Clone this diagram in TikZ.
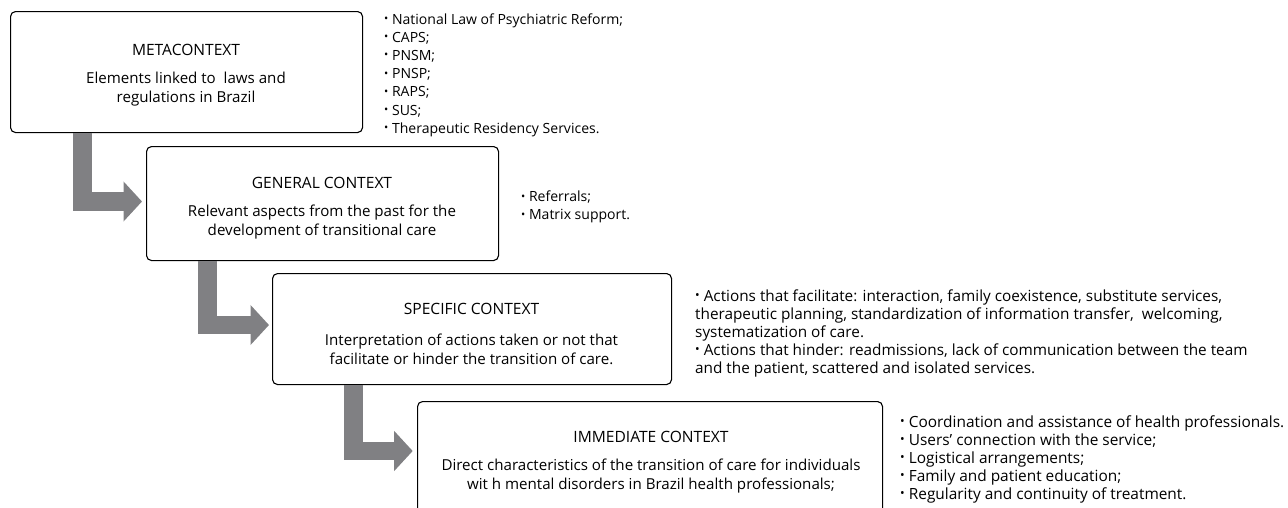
\documentclass[tikz,border=0pt]{standalone}
\usepackage{fontspec}
\setmainfont{Open Sans}
\usetikzlibrary{arrows.meta,calc}
\definecolor{arrowgray}{RGB}{128,128,131}
\newcommand{\bul}{\raisebox{0.2ex}{\scalebox{0.8}{•}}\ }
\newcommand{\tightls}{\lineskiplimit=-50pt\relax}
\newlength\calw
\newcommand\calib[3]{\settowidth{\calw}{\fontsize{10}{10}\selectfont #3}\pgfmathsetmacro#1{10*#2/\the\calw}}
\begin{document}
\calib\szT{108}{METACONTEXT}%
\calib\szB{419}{Direct characteristics of the transition of care for individuals}%
\calib\szA{239}{\bul National Law of Psychiatric Reform;}%
\calib\szC{340}{and the patient, scattered and isolated services.}%
\calib\szD{384}{\bul Coordination and assistance of health professionals.}%
\begin{tikzpicture}[x=1pt,y=-1pt,
  box/.style={draw=black, line width=1.1pt, rounded corners=5pt, anchor=north west, inner sep=0pt},
  ttl/.style={font=\fontsize{\szT}{15}\selectfont, inner sep=0pt},
  body/.style={font=\fontsize{\szB}{19}\selectfont, align=center, inner sep=0pt},
  sidelist/.style={align=left, anchor=west, inner sep=0pt},
  bigarrow/.style={draw=arrowgray, line width=18.7pt, line join=miter, -{Triangle[length=18.5pt,width=39pt]}, arrowgray}]
\useasboundingbox (0,0) rectangle (1288,507);
% boxes
\node[box, minimum width=352, minimum height=121] (b1) at (10,11) {};
\node[box, minimum width=352, minimum height=114] (b2) at (146,146) {};
\node[box, minimum width=399, minimum height=111] (b3) at (272,273) {};
\begin{scope}
\clip (0,0) rectangle (1288,507);
\node[box, minimum width=465, minimum height=140] (b4) at (417,401) {};
\end{scope}
% box texts
\node[ttl] (t1) at (186,50) {METACONTEXT};
\node[body] (d1) at (186,89.5) {Elements linked to\ \ laws and\\regulations in Brazil};
\node[ttl] (t2) at (322,183) {GENERAL CONTEXT};
\node[body] (d2) at (322,222.5) {Relevant aspects from the past for the\\development of transitional care};
\node[ttl] (t3) at (471.5,309) {SPECIFIC CONTEXT};
\node[body] (d3) at (471.5,349.5) {Interpretation of actions taken or not that\\facilitate or hinder the transition of care.};
\node[ttl] (t4) at (651,437) {IMMEDIATE CONTEXT};
\node[body] (d4) at (651,476.5) {Direct characteristics of the transition of care for individuals\\wit h mental disorders in Brazil health professionals;};
% side lists
\node[sidelist, font=\fontsize{\szA}{18.2}\selectfont\tightls] (l1) at (384,75) {\bul National Law of Psychiatric Reform;\\\bul CAPS;\\\bul PNSM;\\\bul PNSP;\\\bul RAPS;\\\bul SUS;\\\bul Therapeutic Residency Services.};
\node[sidelist, font=\fontsize{\szA}{18}\selectfont\tightls] (l2) at (521,207) {\bul Referrals;\\\bul Matrix support.};
\node[sidelist, font=\fontsize{\szC}{18}\selectfont\tightls] (l3) at (695,333) {\bul Actions that facilitate: interaction, family coexistence, substitute services,\\therapeutic planning, standardization of information transfer,\ \ welcoming,\\systematization of care.\\\bul Actions that hinder: readmissions, lack of communication between the team\\and the patient, scattered and isolated services.};
\node[sidelist, font=\fontsize{\szD}{18}\selectfont\tightls] (l4) at (900,459) {\bul Coordination and assistance of health professionals.\\\bul Users' connection with the service;\\\bul Logistical arrangements;\\\bul Family and patient education;\\\bul Regularity and continuity of treatment.};
% arrows
\draw[bigarrow] ($(b1.south west)+(72.8,-0.5)$) |- ($(b2.north west)+(-4,55.5)$);
\draw[bigarrow] ($(b2.south west)+(61.5,-0.5)$) |- ($(b3.north west)+(-3,52)$);
\draw[bigarrow] ($(b3.south west)+(81.5,-0.5)$) |- ($(b4.north west)+(-4.3,50)$);
\end{tikzpicture}
\end{document}
